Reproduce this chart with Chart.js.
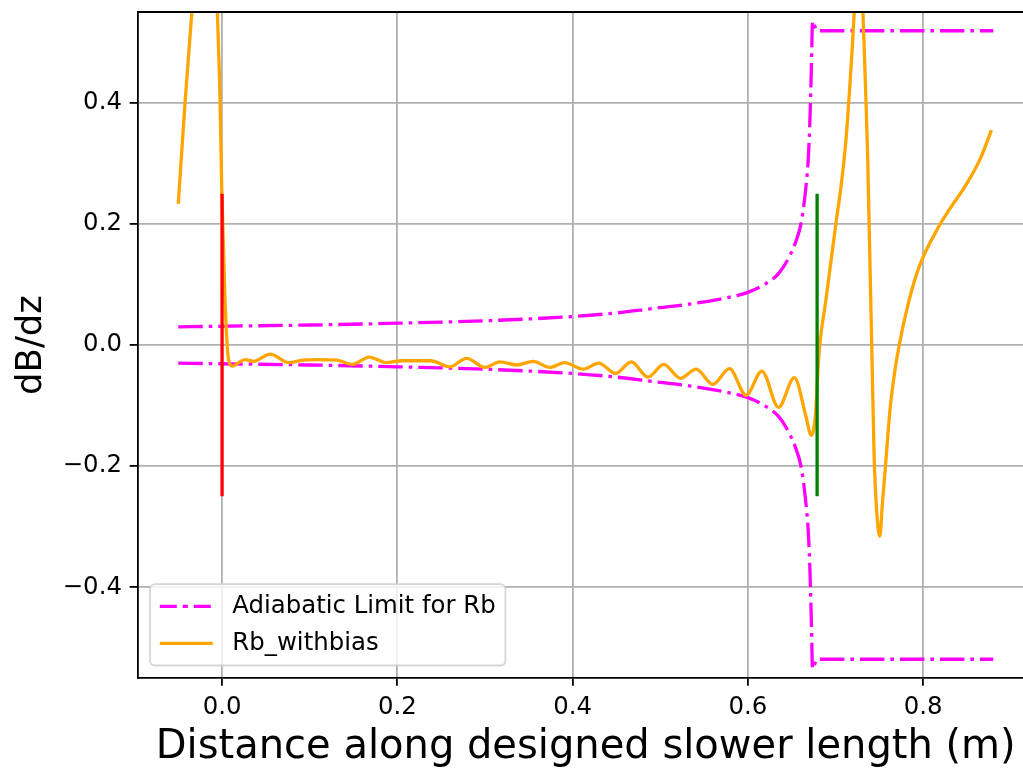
<!DOCTYPE html>
<html>
<head>
<meta charset="utf-8">
<script src="https://cdn.jsdelivr.net/npm/chart.js@4.4.1/dist/chart.umd.min.js"></script>
<style>
  html, body { margin: 0; padding: 0; overflow: hidden; background: #fff; }
  #wrap { width: 1034px; height: 768px; }
</style>
</head>
<body>
<div id="wrap"><canvas id="chart" width="1034" height="768"></canvas></div>
<script>
// adiabatic limit (upper / lower branch)
const limitX = [-0.05, 0.0, 0.1, 0.2, 0.3, 0.4, 0.45, 0.49, 0.53, 0.565, 0.6, 0.62, 0.635, 0.647, 0.655, 0.661, 0.666, 0.669, 0.671, 0.6725, 0.6738, 0.679, 0.88];
const limitUpper = [0.030, 0.031, 0.033, 0.036, 0.040, 0.047, 0.053, 0.060, 0.067, 0.075, 0.087, 0.101, 0.118, 0.145, 0.172, 0.203, 0.258, 0.31, 0.38, 0.46, 0.535, 0.519, 0.519];
const limitLower = [-0.030, -0.031, -0.033, -0.036, -0.040, -0.047, -0.053, -0.060, -0.067, -0.075, -0.087, -0.101, -0.118, -0.145, -0.172, -0.203, -0.258, -0.31, -0.38, -0.46, -0.535, -0.519, -0.519];

// Rb_withbias
const biasX = [
  -0.050, -0.046, -0.042, -0.0345, -0.028, -0.017, -0.010, -0.0054, -0.0023, -0.0003,
  0.0034, 0.0072, 0.012, 0.018, 0.026, 0.036, 0.055, 0.076, 0.092, 0.110,
  0.131, 0.149, 0.168, 0.187, 0.205, 0.238, 0.260, 0.279, 0.300, 0.317,
  0.336, 0.355, 0.374, 0.391, 0.412, 0.430, 0.449, 0.467, 0.486, 0.504,
  0.523, 0.541, 0.560, 0.579, 0.598, 0.616, 0.635, 0.653, 0.6663, 0.6722,
  0.6769, 0.6815, 0.689, 0.7005, 0.707, 0.712, 0.716, 0.7195, 0.722, 0.7265,
  0.7305, 0.7347, 0.7365, 0.7385, 0.7405, 0.742, 0.744, 0.747, 0.7505, 0.7536,
  0.757, 0.762, 0.767, 0.7727, 0.784, 0.7954, 0.818, 0.830, 0.8487, 0.865, 0.878
];
const biasY = [
  0.233, 0.320, 0.405, 0.549, 0.680, 0.800, 0.720, 0.549, 0.405, 0.253,
  0.074, -0.022, -0.035, -0.030, -0.024, -0.027, -0.015, -0.029, -0.025, -0.024,
  -0.025, -0.032, -0.020, -0.029, -0.026, -0.026, -0.036, -0.022, -0.037, -0.028,
  -0.033, -0.027, -0.037, -0.029, -0.040, -0.030, -0.047, -0.028, -0.053, -0.032,
  -0.055, -0.040, -0.065, -0.039, -0.083, -0.043, -0.103, -0.054, -0.118, -0.149,
  -0.118, -0.008, 0.074, 0.201, 0.270, 0.340, 0.420, 0.500, 0.565, 0.640,
  0.575, 0.405, 0.322, 0.190, 0.055, -0.045, -0.180, -0.275, -0.316, -0.260,
  -0.200, -0.110, -0.050, 0.0, 0.074, 0.129, 0.196, 0.224, 0.264, 0.307, 0.355
];

// vertical markers
const startMarkX = [0, 0];
const endMarkX = [0.679, 0.679];
const markY = [-0.25, 0.25];

const xTicks = [0, 0.2, 0.4, 0.6, 0.8];
const yTicks = [-0.4, -0.2, 0, 0.2, 0.4];
const xRange = [-0.0965, 0.9265];
const yRange = [-0.55, 0.55];

const FONT = '"DejaVu Sans", sans-serif';
Chart.defaults.font.family = FONT;
Chart.defaults.color = "#000";

const toPoints = (xs, ys) => xs.map((x, i) => ({ x, y: ys[i] }));
const fmtTick = (v) => (v < 0 ? "\u2212" : "") + Math.abs(v).toFixed(1);

// no extra room for half tick labels, the plot box is fixed
function fixBox(scale, size) {
  if (scale.isHorizontal()) scale.height = size;
  else scale.width = size;
  scale.paddingTop = 0;
  scale.paddingBottom = 0;
  scale.paddingLeft = 0;
  scale.paddingRight = 0;
}

const frame = {
  id: "frame",
  afterDatasetsDraw(chart) {
    const { ctx, chartArea: a } = chart;
    ctx.save();
    ctx.strokeStyle = "#000";
    ctx.lineWidth = 1.8;
    ctx.beginPath();
    ctx.moveTo(a.left, a.top);
    ctx.lineTo(a.right, a.top);
    ctx.lineTo(a.right, a.bottom);
    ctx.stroke();
    ctx.restore();
  },
};

const legendBox = {
  id: "legendBox",
  afterDraw(chart) {
    const { ctx, chartArea: a } = chart;
    const entries = chart.data.datasets.filter((d) => !d.label.startsWith("_"));
    const fs = 24.4;
    const pad = 9.8, handleLen = 53, handleGap = 19.5, rowH = 24.8, rowGap = 12.2;
    ctx.save();
    ctx.font = `${fs}px ${FONT}`;
    const textW = Math.max(...entries.map((e) => ctx.measureText(e.label).width));
    const w = pad + handleLen + handleGap + textW + pad;
    const h = pad * 2 + entries.length * rowH + (entries.length - 1) * rowGap;
    const x0 = a.left + 12.5;
    const y0 = a.bottom - 12.5 - h;
    const r = 5;
    ctx.beginPath();
    ctx.moveTo(x0 + r, y0);
    ctx.lineTo(x0 + w - r, y0);
    ctx.arcTo(x0 + w, y0, x0 + w, y0 + r, r);
    ctx.lineTo(x0 + w, y0 + h - r);
    ctx.arcTo(x0 + w, y0 + h, x0 + w - r, y0 + h, r);
    ctx.lineTo(x0 + r, y0 + h);
    ctx.arcTo(x0, y0 + h, x0, y0 + h - r, r);
    ctx.lineTo(x0, y0 + r);
    ctx.arcTo(x0, y0, x0 + r, y0, r);
    ctx.closePath();
    ctx.fillStyle = "rgba(255,255,255,0.8)";
    ctx.fill();
    ctx.strokeStyle = "rgba(204,204,204,0.8)";
    ctx.lineWidth = 1.8;
    ctx.stroke();

    entries.forEach((e, i) => {
      const cy = y0 + pad + rowH / 2 + i * (rowH + rowGap);
      ctx.beginPath();
      ctx.setLineDash(e.legendDash || []);
      ctx.lineCap = "butt";
      ctx.strokeStyle = e.borderColor;
      ctx.lineWidth = e.borderWidth;
      ctx.moveTo(x0 + pad, cy);
      ctx.lineTo(x0 + pad + handleLen, cy);
      ctx.stroke();
      ctx.setLineDash([]);
      ctx.fillStyle = "#000";
      ctx.textBaseline = "middle";
      ctx.textAlign = "left";
      ctx.fillText(e.label, x0 + pad + handleLen + handleGap, cy);
    });
    ctx.restore();
  },
};

const lineStyle = { showLine: true, pointRadius: 0, pointHoverRadius: 0, borderWidth: 3.3, clip: 0, borderJoinStyle: "round" };

new Chart(document.getElementById("chart"), {
  type: "scatter",
  data: {
    datasets: [
      {
        ...lineStyle,
        label: "Adiabatic Limit for Rb",
        data: toPoints(limitX, limitUpper),
        borderColor: "#ff00ff",
        borderDash: [24.5, 6, 3.5, 6],
        legendDash: [17, 6, 5, 6],
        cubicInterpolationMode: "monotone",
        order: 5,
      },
      {
        ...lineStyle,
        label: "_nolegend_",
        data: toPoints(limitX, limitLower),
        borderColor: "#ff00ff",
        borderDash: [24.5, 6, 3.5, 6],
        cubicInterpolationMode: "monotone",
        order: 5,
      },
      {
        ...lineStyle,
        label: "Rb_withbias",
        data: toPoints(biasX, biasY),
        borderColor: "#ffa500",
        cubicInterpolationMode: "monotone",
        order: 3,
      },
      {
        ...lineStyle,
        label: "_start",
        data: toPoints(startMarkX, markY),
        borderColor: "#ff0000",
        order: 2,
      },
      {
        ...lineStyle,
        label: "_end",
        data: toPoints(endMarkX, markY),
        borderColor: "#008000",
        order: 1,
      },
    ],
  },
  options: {
    responsive: false,
    animation: false,
    devicePixelRatio: 1,
    layout: { padding: { top: 12, right: 0, bottom: 0, left: 0 } },
    plugins: { legend: { display: false }, tooltip: { enabled: false } },
    scales: {
      x: {
        type: "linear",
        min: xRange[0],
        max: xRange[1],
        afterBuildTicks: (scale) => { scale.ticks = xTicks.map((value) => ({ value })); },
        afterFit: (scale) => fixBox(scale, 90),
        ticks: { callback: fmtTick, font: { size: 24.4 }, color: "#000", padding: 7.5, maxRotation: 0, autoSkip: false },
        grid: { color: "#b0b0b0", lineWidth: 1.8, tickColor: "#000", tickLength: 7.8, tickWidth: 1.8 },
        border: { display: true, color: "#000", width: 1.8 },
        title: {
          display: true,
          text: "Distance along designed slower length (m)",
          font: { size: 40, lineHeight: 1 },
          color: "#000",
          padding: { top: 0, bottom: 0 },
        },
      },
      y: {
        type: "linear",
        min: yRange[0],
        max: yRange[1],
        afterBuildTicks: (scale) => { scale.ticks = yTicks.map((value) => ({ value })); },
        afterFit: (scale) => fixBox(scale, 137.5),
        ticks: { callback: fmtTick, font: { size: 24.4 }, color: "#000", padding: 7.8, autoSkip: false },
        grid: { color: "#b0b0b0", lineWidth: 1.8, tickColor: "#000", tickLength: 7.8, tickWidth: 1.8 },
        border: { display: true, color: "#000", width: 1.8 },
        title: {
          display: true,
          text: "dB/dz",
          font: { size: 35.5, lineHeight: 1 },
          color: "#000",
          padding: { top: 14, bottom: 0 },
        },
      },
    },
  },
  plugins: [frame, legendBox],
});
</script>
</body>
</html>
